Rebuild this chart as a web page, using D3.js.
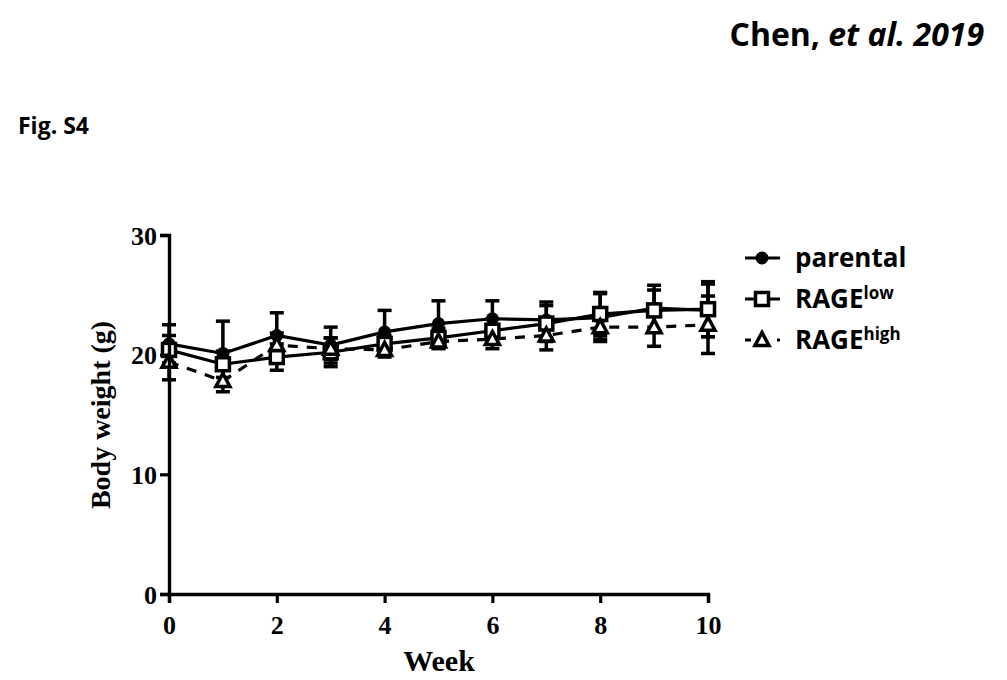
<!DOCTYPE html>
<html>
<head>
<meta charset="utf-8">
<script src="https://cdn.jsdelivr.net/npm/d3@7"></script>
<style>
body { margin: 0; background: #fff; }
</style>
</head>
<body>
<div id="container"></div>
<script>
var width = 1007, height = 680;

var weeks = [0, 1, 2, 3, 4, 5, 6, 7, 8, 9, 10];
var parental = [20.9, 20.1, 21.6, 20.8, 21.9, 22.6, 23.0, 22.9, 23.1, 23.9, 23.7];
var parentalErr = [1.6, 2.7, 1.9, 1.5, 1.8, 1.9, 1.5, 1.5, 2.0, 1.9, 2.2];
var rageLow = [20.4, 19.2, 19.8, 20.2, 20.9, 21.4, 22.0, 22.6, 23.4, 23.7, 23.8];
var rageLowErr = [1.2, 1.1, 1.1, 1.2, 0.7, 0.8, 1.0, 1.5, 1.8, 1.7, 2.3];
var rageHigh = [19.4, 17.8, 20.8, 20.5, 20.4, 21.1, 21.3, 21.6, 22.3, 22.3, 22.5];
var rageHighErr = [1.5, 0.9, 1.0, 0.9, 0.6, 0.6, 0.8, 1.2, 1.0, 1.6, 2.4];
var xTicks = [0, 2, 4, 6, 8, 10];
var yTicks = [0, 10, 20, 30];

var series = [
	{name: 'parental', sup: '', values: parental, err: parentalErr, marker: 'circle', dash: null},
	{name: 'RAGE', sup: 'low', values: rageLow, err: rageLowErr, marker: 'square', dash: null},
	{name: 'RAGE', sup: 'high', values: rageHigh, err: rageHighErr, marker: 'triangle', dash: '10,9'}
];

var xScale = d3.scaleLinear().domain([0, 10]).range([169, 708]);
var yScale = d3.scaleLinear().domain([0, 30]).range([594, 235]);

var serif = '"Liberation Serif", "Times New Roman", serif';
var sans = '"Open Sans", "Noto Sans", sans-serif';

var svg = d3.select('#container').append('svg')
	.attr('width', width)
	.attr('height', height);

// header texts
var title = svg.append('text')
	.attr('x', 984).attr('y', 46)
	.attr('text-anchor', 'end')
	.style('font-family', sans).style('font-weight', 'bold').style('font-size', '32px');
title.append('tspan').text('Chen, ');
title.append('tspan').style('font-style', 'italic').text('et al. 2019');

svg.append('text')
	.attr('x', 18).attr('y', 134)
	.style('font-family', sans).style('font-weight', 'bold').style('font-size', '23px')
	.text('Fig. S4');

function drawMarker(g, type, x, y) {
	if (type == 'circle') {
		g.append('circle').attr('cx', x).attr('cy', y).attr('r', 6.5).attr('fill', '#000');
	} else if (type == 'square') {
		g.append('rect').attr('x', x - 6.5).attr('y', y - 6.5).attr('width', 13).attr('height', 13)
			.attr('fill', '#fff').attr('stroke', '#000').attr('stroke-width', 3.5);
	} else {
		g.append('path').attr('d', 'M' + x + ',' + (y - 7.5) + 'L' + (x + 7) + ',' + (y + 5.5) + 'L' + (x - 7) + ',' + (y + 5.5) + 'Z')
			.attr('fill', '#fff').attr('stroke', '#000').attr('stroke-width', 3.5).attr('stroke-linejoin', 'miter');
	}
}

// error bars
series.forEach(function(s) {
	var g = svg.append('g');
	weeks.forEach(function(w, i) {
		var x = xScale(w), lo = yScale(s.values[i] - s.err[i]), hi = yScale(s.values[i] + s.err[i]);
		g.append('line').attr('x1', x).attr('x2', x).attr('y1', lo).attr('y2', hi)
			.attr('stroke', '#000').attr('stroke-width', 3.5);
		[lo, hi].forEach(function(y) {
			g.append('line').attr('x1', x - 7).attr('x2', x + 7).attr('y1', y).attr('y2', y)
				.attr('stroke', '#000').attr('stroke-width', 3.5);
		});
	});
});

var line = d3.line()
	.x(function(d, i) { return xScale(weeks[i]); })
	.y(function(d) { return yScale(d); });

series.forEach(function(s) {
	svg.append('path')
		.attr('d', line(s.values))
		.attr('fill', 'none')
		.attr('stroke', '#000')
		.attr('stroke-width', 3.2)
		.attr('stroke-dasharray', s.dash);
});

series.forEach(function(s) {
	var g = svg.append('g');
	weeks.forEach(function(w, i) {
		drawMarker(g, s.marker, xScale(w), yScale(s.values[i]));
	});
});

// axes
var xAxis = d3.axisBottom(xScale).tickValues(xTicks).tickSize(9).tickPadding(9).tickFormat(d3.format('d'));
var gx = svg.append('g').attr('transform', 'translate(0,594)').call(xAxis);
var yAxis = d3.axisLeft(yScale).tickValues(yTicks).tickSize(9).tickPadding(3).tickFormat(d3.format('d'));
var gy = svg.append('g').attr('transform', 'translate(169,0)').call(yAxis);
[gx, gy].forEach(function(g) {
	g.select('.domain').attr('stroke-width', 3.4).attr('stroke', '#000');
	g.selectAll('.tick line').attr('stroke-width', 3.2).attr('stroke', '#000');
	g.selectAll('.tick text')
		.style('font-family', serif).style('font-weight', 'bold').style('font-size', '26px').attr('fill', '#000');
});
gx.selectAll('.tick text').attr('dy', '0.85em');
gy.selectAll('.tick text').attr('dy', '0.35em');

svg.append('text')
	.attr('x', 439).attr('y', 671)
	.attr('text-anchor', 'middle')
	.style('font-family', serif).style('font-weight', 'bold').style('font-size', '30px')
	.text('Week');

svg.append('text')
	.attr('transform', 'translate(110,415) rotate(-90)')
	.attr('text-anchor', 'middle')
	.style('font-family', serif).style('font-weight', 'bold').style('font-size', '28px')
	.text('Body weight (g)');

// legend
var legend = svg.append('g');
series.forEach(function(s, i) {
	var y = 258 + i * 41;
	var row = legend.append('g');
	row.append('line').attr('x1', 745).attr('x2', 780).attr('y1', y).attr('y2', y)
		.attr('stroke', '#000').attr('stroke-width', 3.2)
		.attr('stroke-dasharray', s.dash ? '6,10' : null);
	drawMarker(row, s.marker, 762, y);
	var t = row.append('text')
		.attr('x', 795).attr('y', y + 9)
		.style('font-family', sans).style('font-weight', 'bold').style('font-size', '26px');
	t.append('tspan').text(s.name);
	if (s.sup) {
		t.append('tspan').attr('dy', -9).style('font-size', '17px').text(s.sup);
	}
});
</script>
</body>
</html>
